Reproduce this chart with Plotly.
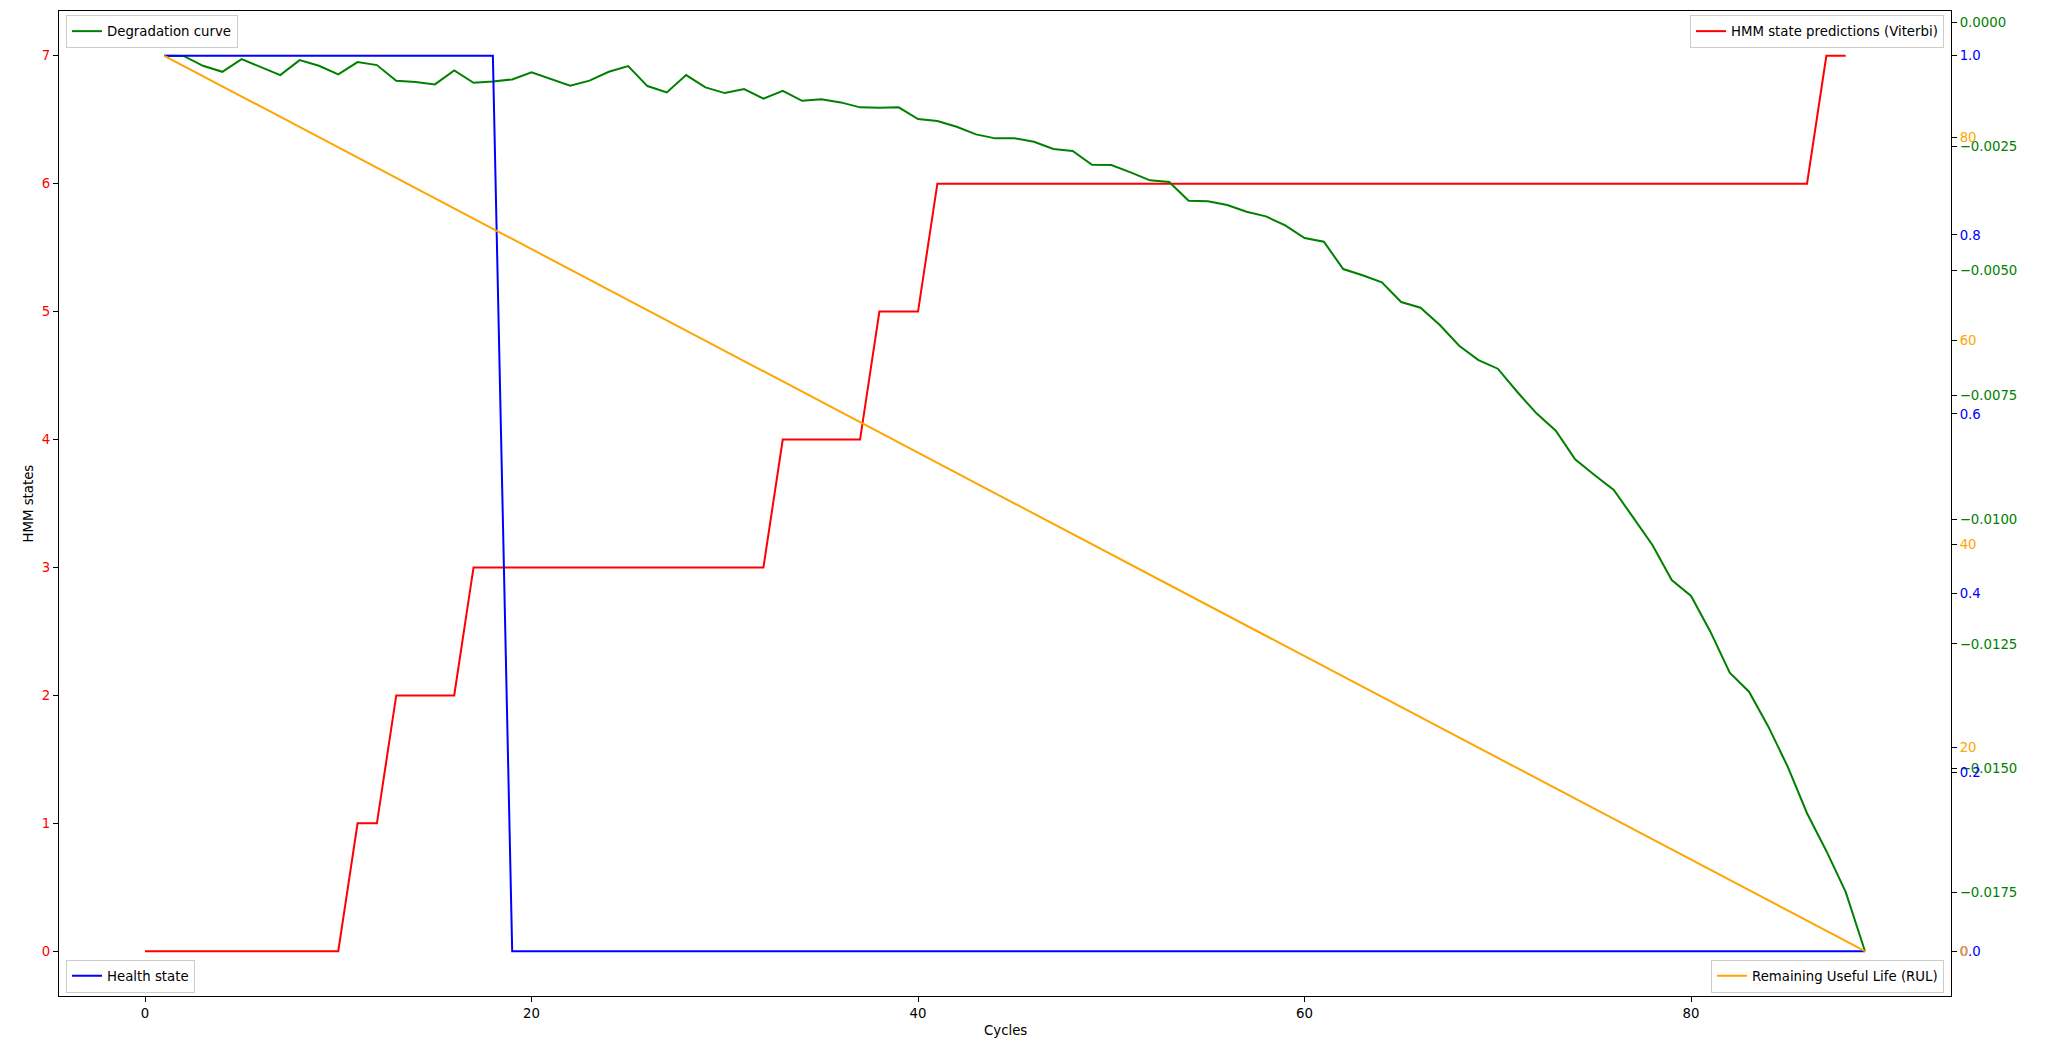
import plotly.graph_objects as go

# ---- data ----
cycles_hmm = list(range(0, 89))          # x for HMM predictions (0..88)
cycles = list(range(1, 90))              # x for other series (1..89)

hmm_states = [0, 0, 0, 0, 0, 0, 0, 0, 0, 0, 0,
              1, 1,
              2, 2, 2, 2,
              3, 3, 3, 3, 3, 3, 3, 3, 3, 3, 3, 3, 3, 3, 3, 3,
              4, 4, 4, 4, 4,
              5, 5, 5,
              6, 6, 6, 6, 6, 6, 6, 6, 6, 6, 6, 6, 6, 6, 6, 6, 6, 6, 6, 6, 6, 6, 6,
              6, 6, 6, 6, 6, 6, 6, 6, 6, 6, 6, 6, 6, 6, 6, 6, 6, 6, 6, 6, 6, 6, 6,
              7, 7]

degradation = [-0.000677, -0.000680, -0.000878, -0.000999, -0.000744, -0.000898, -0.001065, -0.000764, -0.000878, -0.001051,
               -0.000804, -0.000864, -0.001180, -0.001206, -0.001252, -0.000971, -0.001220, -0.001192, -0.001152, -0.001011,
               -0.001146, -0.001280, -0.001176, -0.000999, -0.000884, -0.001286, -0.001413, -0.001065, -0.001312, -0.001427,
               -0.001346, -0.001541, -0.001381, -0.001582, -0.001553, -0.001614, -0.001714, -0.001722, -0.001714, -0.001949,
               -0.001990, -0.002104, -0.002257, -0.002337, -0.002337, -0.002406, -0.002552, -0.002592, -0.002868, -0.002874,
               -0.003020, -0.003181, -0.003215, -0.003591, -0.003603, -0.003678, -0.003812, -0.003905, -0.004086, -0.004341,
               -0.004415, -0.004964, -0.005090, -0.005231, -0.005627, -0.005742, -0.006089, -0.006505, -0.006793, -0.006967,
               -0.007430, -0.007864, -0.008213, -0.008788, -0.009104, -0.009405, -0.009954, -0.010510, -0.011214, -0.011535,
               -0.012253, -0.013077, -0.013459, -0.014162, -0.014966, -0.015902, -0.016660, -0.017484, -0.018676]

health_state = [1, 1, 1, 1, 1, 1, 1, 1, 1, 1, 1, 1, 1, 1, 1, 1, 1, 1,
                0, 0, 0, 0, 0, 0, 0, 0, 0, 0, 0, 0, 0, 0, 0, 0, 0, 0, 0, 0, 0, 0, 0, 0, 0, 0,
                0, 0, 0, 0, 0, 0, 0, 0, 0, 0, 0, 0, 0, 0, 0, 0, 0, 0, 0, 0, 0, 0, 0, 0, 0, 0,
                0, 0, 0, 0, 0, 0, 0, 0, 0, 0, 0, 0, 0, 0, 0, 0, 0, 0, 0]

rul = [88, 87, 86, 85, 84, 83, 82, 81, 80, 79, 78, 77, 76, 75, 74, 73, 72, 71, 70, 69,
       68, 67, 66, 65, 64, 63, 62, 61, 60, 59, 58, 57, 56, 55, 54, 53, 52, 51, 50, 49,
       48, 47, 46, 45, 44, 43, 42, 41, 40, 39, 38, 37, 36, 35, 34, 33, 32, 31, 30, 29,
       28, 27, 26, 25, 24, 23, 22, 21, 20, 19, 18, 17, 16, 15, 14, 13, 12, 11, 10, 9,
       8, 7, 6, 5, 4, 3, 2, 1, 0]

x_ticks = [0, 20, 40, 60, 80]
labels = {
    "hmm": "HMM state predictions (Viterbi)",
    "deg": "Degradation curve",
    "health": "Health state",
    "rul": "Remaining Useful Life (RUL)",
}


def padded(vals, m=0.05):
    lo, hi = min(vals), max(vals)
    span = hi - lo
    return [lo - m * span, hi + m * span]


FONT = "DejaVu Sans, Liberation Sans, sans-serif"
FS = 13.3
W, H = 2048, 1046
ML, MR, MT, MB = 59, 97, 11, 50
PW, PH = W - ML - MR, H - MT - MB

fig = go.Figure()
fig.add_trace(go.Scatter(x=cycles_hmm, y=hmm_states, mode="lines", name=labels["hmm"],
                         line=dict(color="#FF0000", width=2), yaxis="y", legend="legend"))
fig.add_trace(go.Scatter(x=cycles, y=degradation, mode="lines", name=labels["deg"],
                         line=dict(color="#008000", width=2), yaxis="y2", legend="legend2"))
fig.add_trace(go.Scatter(x=cycles, y=health_state, mode="lines", name=labels["health"],
                         line=dict(color="#0000FF", width=2), yaxis="y3", legend="legend3"))
fig.add_trace(go.Scatter(x=cycles, y=rul, mode="lines", name=labels["rul"],
                         line=dict(color="#FFA500", width=2), yaxis="y4", legend="legend4"))

common_axis = dict(showgrid=False, zeroline=False, ticks="outside", ticklen=5,
                   tickwidth=1, tickcolor="black")

legend_style = dict(bgcolor="rgba(255,255,255,0.8)", bordercolor="#cccccc", borderwidth=1,
                    font=dict(family=FONT, size=FS, color="black"), tracegroupgap=0)

dx = 7 / PW
dy_top = 4 / PH
dy_bot = 3.5 / PH

fig.update_layout(
    width=W, height=H,
    margin=dict(l=ML, r=MR, t=MT, b=MB, pad=0),
    paper_bgcolor="white", plot_bgcolor="white",
    font=dict(family=FONT, size=FS, color="black"),
    xaxis=dict(range=padded(cycles_hmm + cycles), tickvals=x_ticks,
               showline=True, mirror=True, linecolor="black", linewidth=1,
               tickfont=dict(color="black"), **common_axis),
    yaxis=dict(range=padded(hmm_states), dtick=1, tick0=0,
               showline=True, mirror=True, linecolor="black", linewidth=1,
               tickfont=dict(color="#FF0000"), **common_axis),
    yaxis2=dict(range=padded(degradation), tick0=0, dtick=0.0025, tickformat=".4f",
                overlaying="y", side="right", anchor="x",
                tickfont=dict(color="#008000"), **common_axis),
    yaxis3=dict(range=padded(health_state), tick0=0, dtick=0.2, tickformat=".1f",
                overlaying="y", side="right", anchor="x",
                tickfont=dict(color="#0000FF"), **common_axis),
    yaxis4=dict(range=padded(rul), tick0=0, dtick=20,
                overlaying="y", side="right", anchor="x",
                tickfont=dict(color="#FFA500"), **common_axis),
    legend=dict(x=1 - dx, y=1 - dy_top, xanchor="right", yanchor="top", **legend_style),
    legend2=dict(x=dx, y=1 - dy_top, xanchor="left", yanchor="top", **legend_style),
    legend3=dict(x=dx, y=dy_bot, xanchor="left", yanchor="bottom", **legend_style),
    legend4=dict(x=1 - dx, y=dy_bot, xanchor="right", yanchor="bottom", **legend_style),
    annotations=[
        dict(text="Cycles", xref="paper", yref="paper", x=0.5, y=0, xanchor="center",
             yanchor="middle", yshift=-34, showarrow=False,
             font=dict(family=FONT, size=FS, color="black")),
        dict(text="HMM states", xref="paper", yref="paper", x=0, y=0.5, xanchor="center",
             yanchor="middle", xshift=-31, textangle=-90, showarrow=False,
             font=dict(family=FONT, size=FS, color="black")),
    ],
    showlegend=True,
)

fig.write_html("out.html", config={"displayModeBar": False},
               post_script="document.body.style.margin='0';document.body.style.overflow='hidden';")
